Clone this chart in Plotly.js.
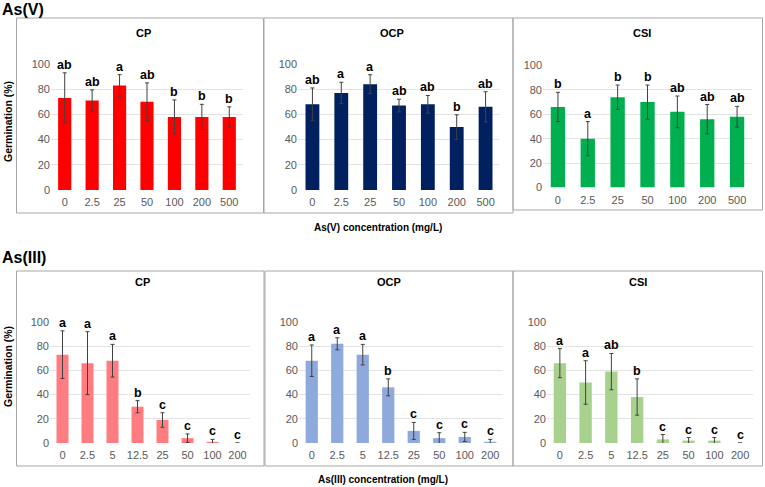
<!DOCTYPE html>
<html>
<head>
<meta charset="utf-8">
<script src="https://cdn.plot.ly/plotly-3.0.1.min.js"></script>
<style>html,body{margin:0;padding:0;background:#fff;}#chart{width:765px;height:487px;}</style>
</head>
<body>
<div id="chart"></div>
<script>
// ---- Data ----
const asVConc = ["0", "2.5", "25", "50", "100", "200", "500"];
const asIIIConc = ["0", "2.5", "5", "12.5", "25", "50", "100", "200"];

const asV_CP = [73, 71, 83, 70, 58, 58, 58];
const asV_CP_err = [20, 8.5, 8.5, 15, 13.5, 10, 8];
const asV_CP_letters = ["ab", "ab", "a", "ab", "b", "b", "b"];

const asV_OCP = [68, 77, 84, 67, 68, 50, 66];
const asV_OCP_err = [13, 8.5, 7.5, 5, 7, 9.7, 12];
const asV_OCP_letters = ["ab", "a", "a", "ab", "ab", "b", "ab"];

const asV_CSI = [66, 40, 74, 70, 62, 56, 58];
const asV_CSI_err = [12, 14, 10, 14, 13, 12, 8.5];
const asV_CSI_letters = ["b", "a", "b", "b", "ab", "ab", "ab"];

const asIII_CP = [73, 66, 68, 30, 19, 4, 1, 0];
const asIII_CP_err = [19.7, 26, 13.5, 5, 6, 3.5, 2, 0];
const asIII_CP_letters = ["a", "a", "a", "b", "c", "c", "c", "c"];

const asIII_OCP = [68, 82, 73, 46, 10, 4, 5, 1];
const asIII_OCP_err = [13, 5, 8.5, 7, 7, 4.5, 3.8, 2];
const asIII_OCP_letters = ["a", "a", "a", "b", "c", "c", "c", "c"];

const asIII_CSI = [66, 50, 59, 38, 3, 2, 2, 0];
const asIII_CSI_err = [12, 18, 15, 15, 4, 2.5, 2.5, 0];
const asIII_CSI_letters = ["a", "a", "ab", "b", "c", "c", "c", "c"];

const panelTitles = ["CP", "OCP", "CSI"];
const yTicks = [0, 20, 40, 60, 80, 100];

// ---- Layout helpers ----
const W = 765, H = 487;
const px = v => v / W;
const py = v => 1 - v / H;
const FONT = "Liberation Sans, Arial, sans-serif";

const panels = [
  {cats: asVConc, y: asV_CP, e: asV_CP_err, l: asV_CP_letters, color: "#FF0000", xd: [51, 243], yd: [190, 64], box: [16.5, 263.5, 18, 213], title: [143.5, 33]},
  {cats: asVConc, y: asV_OCP, e: asV_OCP_err, l: asV_OCP_letters, color: "#002060", xd: [298, 500], yd: [190, 64], box: [264, 513, 18, 213], title: [392, 33]},
  {cats: asVConc, y: asV_CSI, e: asV_CSI_err, l: asV_CSI_letters, color: "#00B050", xd: [543, 752], yd: [187.5, 65.5], box: [513, 762.5, 18, 210], title: [642, 33]},
  {cats: asIIIConc, y: asIII_CP, e: asIII_CP_err, l: asIII_CP_letters, color: "#FF7C80", xd: [50, 250], yd: [443, 322], box: [16.5, 264, 271, 466], title: [142, 282]},
  {cats: asIIIConc, y: asIII_OCP, e: asIII_OCP_err, l: asIII_OCP_letters, color: "#8EA9DB", xd: [299, 503], yd: [443, 322], box: [265, 513, 271, 466], title: [389, 282]},
  {cats: asIIIConc, y: asIII_CSI, e: asIII_CSI_err, l: asIII_CSI_letters, color: "#A9D18E", xd: [547, 753], yd: [443, 322], box: [513, 762.5, 271, 466], title: [638, 282]}
];

const data = [];
const layout = {
  width: W, height: H,
  margin: {l: 0, r: 0, t: 0, b: 0},
  paper_bgcolor: "#ffffff", plot_bgcolor: "#ffffff",
  showlegend: false,
  bargap: 0.52,
  font: {family: FONT, color: "#595959", size: 11},
  annotations: [], shapes: []
};

panels.forEach((p, i) => {
  const n = i + 1;
  const xa = "x" + (n === 1 ? "" : n), ya = "y" + (n === 1 ? "" : n);
  const xk = "xaxis" + (n === 1 ? "" : n), yk = "yaxis" + (n === 1 ? "" : n);
  const idx = p.cats.map((c, k) => k);
  data.push({
    type: "bar", x: idx, y: p.y, xaxis: xa, yaxis: ya,
    marker: {color: p.color, line: {width: 0}},
    error_y: {type: "data", array: p.e, visible: true, color: "#404040", thickness: 1, width: 2},
    hoverinfo: "skip"
  });
  layout[xk] = {
    domain: [px(p.xd[0]), px(p.xd[1])], anchor: ya, type: "linear",
    range: [-0.5, p.cats.length - 0.5], tickvals: idx, ticktext: p.cats,
    showgrid: false, showline: false, zeroline: false, ticks: "",
    tickfont: {family: FONT, size: 11, color: "#595959"}, ticklabelstandoff: 4,
    fixedrange: true
  };
  layout[yk] = {
    domain: [py(p.yd[0]), py(p.yd[1])], anchor: xa, type: "linear", range: [0, 100],
    tickvals: yTicks, showgrid: true, gridcolor: "#E3E3E3", gridwidth: 1,
    showline: false, zeroline: false, ticks: "",
    tickfont: {family: FONT, size: 11, color: "#595959"},
    fixedrange: true
  };
  // significance letters
  p.cats.forEach((c, k) => {
    layout.annotations.push({
      xref: xa, yref: ya, x: k, y: p.y[k] + p.e[k], text: p.l[k],
      showarrow: false, yanchor: "bottom", xanchor: "center", yshift: -1,
      font: {family: FONT, size: 12.5, color: "#000000", weight: "bold"}
    });
  });
  // panel title
  layout.annotations.push({
    xref: "paper", yref: "paper", x: px(p.title[0]), y: py(p.title[1]),
    text: panelTitles[i % 3], showarrow: false, xanchor: "center", yanchor: "middle",
    font: {family: FONT, size: 11, color: "#000000", weight: "bold"}
  });
  // panel box
  layout.shapes.push({
    type: "rect", xref: "paper", yref: "paper",
    x0: px(p.box[0]), x1: px(p.box[1]), y0: py(p.box[3]), y1: py(p.box[2]),
    line: {color: "#A6A6A6", width: 1}, fillcolor: "rgba(0,0,0,0)", layer: "below"
  });
});

// Section headers and axis titles
const paperText = (x, y, text, size, xanchor, angle) => ({
  xref: "paper", yref: "paper", x: px(x), y: py(y), text: text, showarrow: false,
  xanchor: xanchor || "center", yanchor: "middle", textangle: angle || 0,
  font: {family: FONT, size: size, color: "#000000", weight: "bold"}
});
layout.annotations.push(paperText(0, 10, "As(V)", 16, "left"));
layout.annotations.push(paperText(0, 257.5, "As(III)", 16, "left"));
layout.annotations.push(paperText(8, 122, "Germination (%)", 10.5, "center", -90));
layout.annotations.push(paperText(8, 367, "Germination (%)", 10.5, "center", -90));
layout.annotations.push(paperText(378, 227, "As(V) concentration (mg/L)", 10, "center"));
layout.annotations.push(paperText(383, 479, "As(III) concentration (mg/L)", 10, "center"));

Plotly.newPlot("chart", data, layout, {staticPlot: true, displayModeBar: false});
</script>
</body>
</html>
